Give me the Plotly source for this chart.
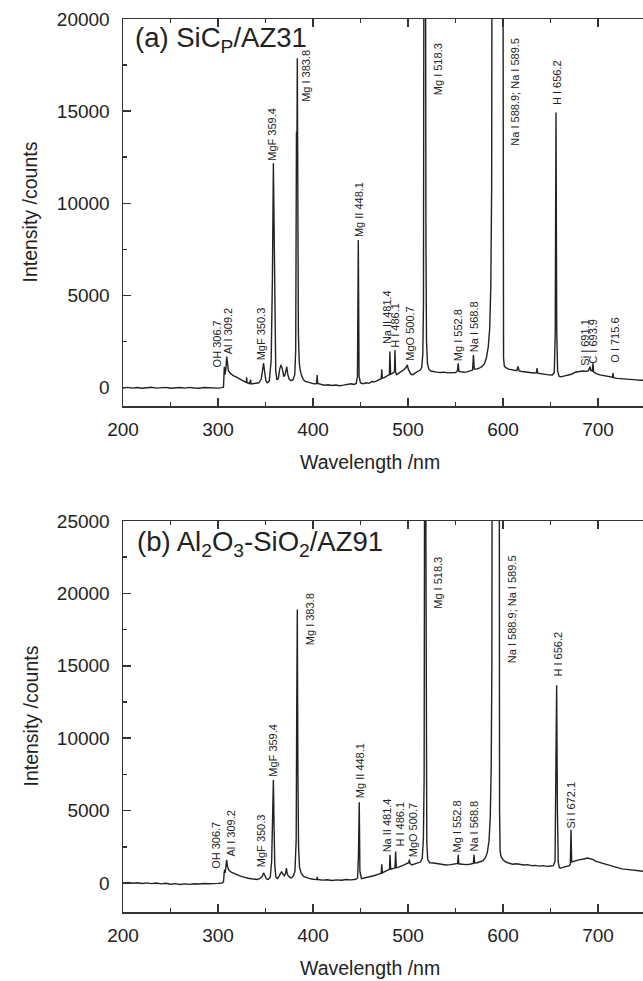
import plotly.graph_objects as go

# ---------------- data ----------------
wl_a = [200, 205, 210, 215, 220, 225, 230, 235, 240, 245, 250, 255, 260, 265, 270, 275, 280, 285, 290, 295, 300, 304,
        305.8, 306.3, 306.7, 307.3, 308.3, 309.2, 310, 311, 313, 316, 319, 322, 325, 328, 329.8, 330.2, 330.6, 333,
        334.4, 334.8, 337, 340, 343, 345.5, 347, 348, 349, 350.5, 352, 354, 356, 357.3, 358.3, 359, 359.8, 360.8,
        362, 363.5, 365, 366.3, 367.8, 369.3, 370.5, 371.6, 372.4, 373.5, 375, 377, 379, 380.8, 381.8, 382.6, 383.1,
        383.5, 384, 384.6, 385.5, 386.5, 388, 390, 392, 395, 398, 401, 403.8, 404.4, 405, 408, 412, 416, 420, 424,
        428, 432, 436, 440, 443, 445.5, 446.8, 447.7, 448.5, 450, 453, 456, 459, 462, 465, 468, 470, 471.8, 472.4,
        473, 475, 477, 479, 480.4, 481, 481.7, 483, 485, 485.8, 486.3, 486.9, 488, 490, 492, 494, 496, 498, 499.3,
        500.3, 501.5, 503, 505, 507, 509, 511, 513, 514.5, 515.6, 516.3, 516.9, 518.3, 518.9, 519.5, 520.5, 522,
        524, 527, 530, 534, 538, 542, 546, 550, 552, 552.9, 553.6, 556, 559, 562, 565, 568, 568.9, 569.8, 572, 575,
        578, 580.5, 582.5, 584.5, 586, 587.2, 588.1, 588.8, 599.6, 600, 600.6, 601.5, 603, 606, 609, 612, 614.5,
        615.8, 617, 620, 624, 628, 632, 635.1, 635.8, 636.5, 640, 644, 648, 652, 654, 655, 655.8, 656.6, 657.5,
        659, 661, 664, 668, 672, 676, 680, 684, 688, 690, 691.6, 692.4, 694, 694.7, 695.4, 698, 702, 706, 710,
        714, 715.3, 715.8, 716.4, 720, 725, 730, 735, 740, 745, 750]
int_a = [-20, 10, -30, 0, -40, -10, 20, -30, -10, 10, -40, -20, 0, -30, 10, -20, -40, 0, -20, -10, -30, 0,
         20, 700, 1130, 700, 1000, 1680, 1200, 900, 780, 650, 580, 470, 400, 320, 280, 560, 260, 220,
         420, 200, 210, 230, 260, 450, 1100, 1330, 900, 350, 260, 350, 1500, 6000, 12170, 9000, 3000, 900,
         420, 500, 1000, 1230, 1000, 600, 700, 1050, 1130, 700, 450, 380, 430, 700, 2000, 13890, 13000,
         17870, 9000, 3000, 1400, 950, 650, 420, 330, 280, 230, 200, 220, 680, 220, 170, 130, 150, 110, 140,
         100, 130, 160, 210, 170, 220, 600, 8010, 600, 250, 210, 260, 230, 330, 310, 400, 450, 480, 990,
         500, 540, 600, 640, 700, 1950, 720, 760, 800, 850, 2040, 850, 700, 760, 820, 900, 980, 1100, 1230,
         1000, 820, 720, 700, 780, 850, 900, 950, 1100, 1800, 4500, 30000, 30000, 8000, 2500, 1300, 1000,
         900, 860, 840, 820, 840, 800, 790, 820, 900, 1320, 880, 840, 830, 850, 880, 950, 1770, 1000, 1000, 1050,
         1150, 1300, 1600, 2200, 3200, 5500, 11000, 40000, 40000, 6000, 1600, 1150, 1080, 1000, 960, 930, 920,
         1150, 900, 870, 830, 800, 790, 800, 1050, 780, 740, 700, 690, 680, 800, 3000, 14920, 3000, 900,
         620, 580, 620, 660, 720, 830, 880, 900, 880, 920, 1130, 930, 900, 1320, 850, 760, 690, 640, 600,
         560, 560, 780, 540, 500, 470, 450, 430, 420, 400, 400]

wl_b = [200, 205, 210, 215, 220, 225, 230, 235, 240, 245, 250, 255, 260, 265, 270, 275, 280, 285, 290, 295, 300, 304,
        305.8, 306.5, 307, 307.6, 308.4, 309.1, 310, 311.5, 314, 317, 320, 323, 326, 329, 332, 335, 338, 341, 344,
        346.5, 348, 349.3, 351, 353, 355, 356.5, 357.5, 358.3, 359, 359.8, 361, 362.5, 364.5, 366.9, 368.5, 370,
        371.2, 372, 373, 375, 377, 379, 381, 382.3, 382.9, 383.5, 384.1, 384.8, 385.8, 387.5, 390, 393, 396, 400,
        404, 404.5, 405, 410, 415, 420, 425, 430, 435, 440, 445, 447, 447.9, 448.7, 449.4, 451, 455, 460, 465,
        469, 471.8, 472.4, 473, 476, 479, 480.5, 481.1, 481.8, 484, 486.3, 487, 487.7, 490, 493, 496, 499, 500.8,
        501.4, 502.2, 504, 507, 510, 513, 515, 516.2, 517, 517.5, 518.6, 519.2, 519.8, 520.8, 523, 527, 531, 535,
        540, 545, 550, 552.3, 552.9, 553.5, 557, 561, 565, 568.8, 569.5, 570.2, 573, 576, 579, 581.5, 583.5,
        585.3, 586.6, 587.6, 588.3, 588.8, 596, 596.4, 597, 598, 600, 603, 606, 610, 614, 618, 622, 626, 630,
        634, 638, 642, 646, 650, 653, 654.8, 655.7, 656.5, 657.3, 658.2, 659.5, 661, 664, 667, 670, 670.9, 671.6,
        672.3, 674, 677, 680, 683, 686, 689, 692, 695, 698, 702, 706, 710, 715, 720, 725, 730, 735, 740, 745, 750]
int_b = [-20, 40, -10, 20, -30, 10, -40, 0, -60, -20, -80, -40, -100, -60, -90, -50, -70, -30, -50, -10, -20, 0,
         80, 700, 920, 700, 1100, 1610, 1150, 880, 750, 650, 600, 500, 420, 350, 330, 300, 280, 250, 300,
         450, 700, 550, 280, 250, 400, 1500, 4500, 7120, 4000, 1200, 400, 300, 500, 800, 600, 500,
         700, 1035, 600, 420, 350, 450, 800, 3000, 12000, 18890, 8000, 2500, 1100, 690, 450, 360, 320, 260,
         250, 420, 240, 200, 230, 180, 220, 190, 240, 220, 260, 350, 2000, 5570, 800, 300, 350, 430, 520,
         620, 680, 1300, 700, 800, 900, 950, 1955, 950, 1000, 1050, 2180, 1050, 1100, 1150, 1250, 1350, 1400,
         1610, 1350, 1250, 1300, 1350, 1450, 1700, 3000, 7140, 30000, 30000, 8000, 2800, 1600, 1400, 1380, 1330, 1300,
         1250, 1270, 1300, 1350, 1955, 1330, 1300, 1270, 1300, 1350, 1955, 1380, 1400, 1450, 1550, 1750, 2100,
         2900, 4500, 8000, 15000, 40000, 40000, 5000, 2200, 1840, 1600, 1450, 1400, 1300, 1330, 1270, 1250, 1270, 1200,
         1220, 1170, 1200, 1150, 1180, 1200, 1500, 6000, 13650, 5000, 1400, 1050, 1035, 1100, 1150, 1200, 1300, 3680,
         1450, 1500, 1550, 1600, 1620, 1680, 1730, 1700, 1620, 1500, 1420, 1330, 1270, 1150, 1035, 980, 940, 900, 880, 830, 800]

labels_a = ["OH 306.7", "Al I 309.2", "MgF 350.3", "MgF 359.4", "Mg I 383.8", "Mg II 448.1", "Na II 481.4",
            "H I 486.1", "MgO 500.7", "Mg I 518.3", "Mg I 552.8", "Na I 568.8", "Na I 588.9; Na I 589.5",
            "H I 656.2", "Si I 691.1", "C I 693.9", "O I 715.6"]
label_x_a = [298.6, 310.9, 345.3, 357.5, 393.3, 447.7, 477.8, 486.3, 502.1, 531.2, 552.0, 568.8, 612.6,
             657.5, 686.3, 695.1, 717.9]
label_y_a = [1050, 1770, 1400, 12260, 15430, 8100, 2300, 2130, 1400, 15790, 1400, 1860, 13070,
             15280, 1130, 1230, 1320]

labels_b = ["OH 306.7", "Al I 309.2", "MgF 350.3", "MgF 359.4", "Mg I 383.8", "Mg II 448.1", "Na II 481.4",
            "H I 486.1", "MgO 500.7", "Mg I 518.3", "Mg I 552.8", "Na I 568.8", "Na I 588.9; Na I 589.5",
            "H I 656.2", "Si I 672.1"]
label_x_b = [298.6, 313.3, 346.0, 358.2, 396.8, 449.5, 478.2, 491.6, 505.6, 531.9, 552.0, 569.5, 609.1,
             658.2, 671.3]
label_y_b = [920, 1730, 1040, 7260, 16350, 5760, 2070, 2420, 1730, 18890, 2070, 2070, 15090,
             14170, 3680]

panel_titles = ["(a) SiC<sub>P</sub>/AZ31", "(b) Al<sub>2</sub>O<sub>3</sub>-SiO<sub>2</sub>/AZ91"]
x_title = "Wavelength /nm"
y_title = "Intensity /counts"
x_range = [200, 747.4]
y_range_a = [-1000, 20000]
y_range_b = [-2000, 25000]

# ---------------- layout geometry (pixels) ----------------
W, H = 643, 981
L, R, T, B = 123, 0, 19, 69
PH = H - T - B
TOP_A, BOT_A = 19, 406
TOP_B, BOT_B = 521, 912


def py(p):
    return (H - B - p) / PH


def px(p):
    return (p - L) / (W - L - R)


FONT = "Liberation Sans, Arial, Helvetica, sans-serif"
INK = "#222222"

fig = go.Figure()
fig.add_trace(go.Scatter(x=wl_a, y=int_a, mode="lines", line=dict(color=INK, width=1.4),
                         xaxis="x", yaxis="y", showlegend=False, hoverinfo="skip"))
fig.add_trace(go.Scatter(x=wl_b, y=int_b, mode="lines", line=dict(color=INK, width=1.4),
                         xaxis="x2", yaxis="y2", showlegend=False, hoverinfo="skip"))

axis_common = dict(showline=True, linecolor="#333333", linewidth=1.5, ticks="inside", tickwidth=1.5,
                   tickcolor="#333333", showgrid=False, zeroline=False, tickformat="d",
                   tickfont=dict(family=FONT, size=19, color=INK))
minor_x = dict(dtick=50, ticks="inside", ticklen=4, tickwidth=1.5, tickcolor="#333333")
minor_y = dict(dtick=2500, ticks="inside", ticklen=4, tickwidth=1.5, tickcolor="#333333")

fig.update_layout(
    width=W, height=H, margin=dict(l=L, r=R, t=T, b=B),
    paper_bgcolor="white", plot_bgcolor="white",
    xaxis=dict(domain=[0, 1], anchor="y", range=x_range, dtick=100, ticklen=8, mirror="ticks",
               minor=minor_x, ticklabelstandoff=6, **axis_common),
    yaxis=dict(domain=[py(BOT_A), py(TOP_A)], anchor="x", range=y_range_a, dtick=5000, ticklen=8,
               minor=minor_y, ticklabelstandoff=8, **axis_common),
    xaxis2=dict(domain=[0, 1], anchor="y2", range=x_range, dtick=100, ticklen=8, mirror="ticks",
                minor=minor_x, ticklabelstandoff=6, **axis_common),
    yaxis2=dict(domain=[py(BOT_B), py(TOP_B)], anchor="x2", range=y_range_b, dtick=5000, ticklen=8,
                minor=minor_y, ticklabelstandoff=8, **axis_common),
)

annotations = []
for txts, xs, ys, xr, yr in [(labels_a, label_x_a, label_y_a, "x", "y"),
                             (labels_b, label_x_b, label_y_b, "x2", "y2")]:
    for t, x, y in zip(txts, xs, ys):
        annotations.append(dict(text=t, x=x, y=y, xref=xr, yref=yr, textangle=-90, showarrow=False,
                                xanchor="center", yanchor="bottom", borderpad=0,
                                font=dict(family=FONT, size=11, color=INK)))

# panel titles
annotations.append(dict(text=panel_titles[0], x=px(133), y=py(TOP_A + 1), xref="paper", yref="paper",
                        xanchor="left", yanchor="top", showarrow=False,
                        font=dict(family=FONT, size=27.5, color=INK)))
annotations.append(dict(text=panel_titles[1], x=px(135), y=py(TOP_B + 3), xref="paper", yref="paper",
                        xanchor="left", yanchor="top", showarrow=False,
                        font=dict(family=FONT, size=27.5, color=INK)))

# axis titles
for top, bot in [(TOP_A, BOT_A), (TOP_B, BOT_B)]:
    annotations.append(dict(text=y_title, x=px(30), y=py((top + bot) / 2), xref="paper", yref="paper",
                            textangle=-90, showarrow=False, xanchor="center", yanchor="middle",
                            font=dict(family=FONT, size=19.5, color=INK)))
    annotations.append(dict(text=x_title, x=px(370), y=py(bot + 56), xref="paper", yref="paper",
                            showarrow=False, xanchor="center", yanchor="middle",
                            font=dict(family=FONT, size=19.5, color=INK)))

fig.update_layout(annotations=annotations)
fig.write_html("out.html", config={"displayModeBar": False, "staticPlot": True},
               post_script="document.body.style.margin='0';document.body.style.padding='0';"
                           "document.documentElement.style.overflow='hidden';")
